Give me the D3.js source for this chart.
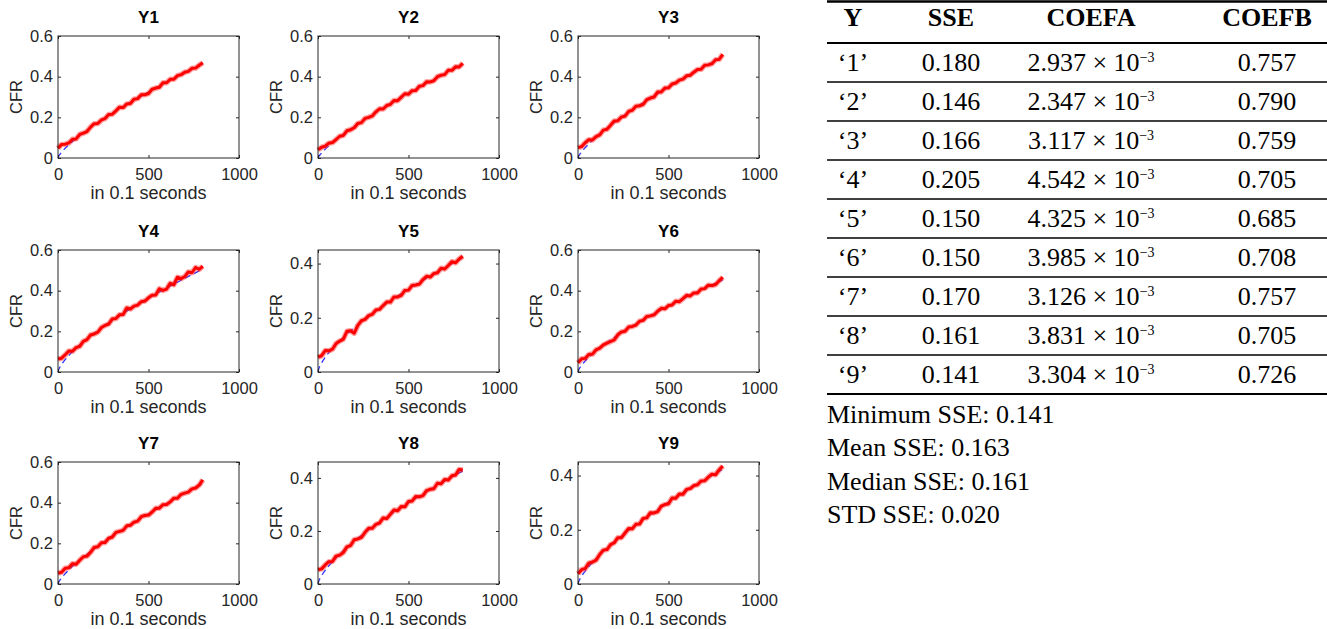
<!DOCTYPE html>
<html>
<head>
<meta charset="utf-8">
<script src="https://cdn.jsdelivr.net/npm/d3@7"></script>
<style>
  body { margin: 0; background: #fff; }
  svg { display: block; }
</style>
</head>
<body>
<svg id="chart"></svg>
<script>
// sample positions (in 0.1 s) of the measured curves
const sampleX = [0, 20, 40, 60, 80, 100, 120, 140, 160, 180, 200, 220, 240, 260, 280, 300, 320, 340, 360, 380,
  400, 420, 440, 460, 480, 500, 520, 540, 560, 580, 600, 620, 640, 660, 680, 700, 720, 740, 760, 780, 800];

const cfrY1 = [.048, .067, .068, .074, .092, .094, .116, .122, .130, .152, .169, .170, .187, .194, .214, .215, .232, .250, .248, .266,
  .268, .289, .292, .311, .311, .317, .338, .344, .348, .370, .370, .387, .387, .405, .410, .422, .426, .441, .442, .456, .468];
const cfrY2 = [.040, .053, .058, .073, .076, .091, .107, .111, .134, .139, .149, .170, .174, .195, .200, .207, .227, .242, .241, .258,
  .264, .283, .282, .299, .316, .314, .331, .332, .353, .356, .375, .374, .380, .400, .407, .410, .432, .431, .449, .448, .466];
const cfrY3 = [.051, .056, .075, .090, .089, .105, .114, .137, .141, .161, .182, .183, .202, .206, .229, .235, .255, .257, .264, .287,
  .295, .300, .324, .325, .344, .345, .364, .369, .383, .388, .404, .407, .422, .435, .436, .456, .458, .464, .483, .485, .510];
const cfrY4 = [.064, .068, .085, .103, .102, .120, .126, .151, .159, .182, .187, .196, .219, .229, .236, .261, .263, .282, .283, .315,
  .310, .324, .329, .346, .349, .365, .378, .379, .409, .401, .408, .436, .429, .466, .459, .469, .492, .488, .514, .505, .520];
const cfrY5 = [.055, .060, .079, .078, .084, .105, .114, .121, .150, .152, .143, .172, .189, .194, .208, .213, .229, .231, .245, .258,
  .258, .277, .277, .283, .301, .302, .319, .321, .324, .341, .353, .350, .363, .366, .383, .380, .393, .407, .403, .417, .427];
const cfrY6 = [.045, .065, .067, .086, .088, .109, .117, .133, .142, .150, .158, .183, .197, .200, .221, .224, .231, .250, .254, .273,
  .276, .281, .299, .313, .311, .327, .330, .348, .346, .361, .377, .374, .389, .389, .408, .410, .427, .425, .430, .449, .466];
const cfrY7 = [.053, .058, .078, .080, .100, .097, .117, .134, .137, .156, .180, .183, .203, .204, .225, .231, .254, .259, .264, .286,
  .289, .304, .309, .331, .337, .339, .354, .372, .373, .390, .391, .404, .422, .422, .441, .447, .452, .468, .472, .486, .512];
const cfrY8 = [.054, .057, .072, .084, .085, .105, .109, .119, .140, .145, .167, .170, .176, .195, .210, .210, .225, .230, .249, .247,
  .263, .279, .276, .292, .291, .311, .313, .330, .329, .333, .352, .357, .359, .380, .378, .394, .392, .408, .411, .432, .430];
const cfrY9 = [.038, .053, .057, .077, .081, .088, .109, .125, .127, .145, .152, .171, .171, .188, .205, .204, .220, .221, .242, .244,
  .263, .262, .267, .287, .293, .296, .317, .316, .332, .331, .349, .352, .363, .366, .380, .381, .394, .405, .403, .421, .435];

// fitted curve (COEFA * t^COEFB), read at a few positions
const fitX = [0, 5, 15, 30, 60, 100, 200, 400, 600, 800];
const fitY1 = [0, .0099, .0228, .0386, .0651, .0959, .1621, .2740, .3724, .463];
const fitY2 = [0, .0084, .0199, .0345, .0596, .0892, .1543, .2668, .3675, .461];
const fitY3 = [0, .0106, .0243, .0412, .0697, .1027, .1739, .2942, .4002, .498];
const fitY4 = [0, .0141, .0306, .0500, .0814, .1168, .1903, .3103, .4129, .506];
const fitY5 = [0, .0130, .0276, .0444, .0715, .1014, .1630, .2620, .3460, .421];
const fitY6 = [0, .0125, .0271, .0443, .0723, .1039, .1697, .2772, .3693, .453];
const fitY7 = [0, .0106, .0243, .0410, .0693, .1021, .1726, .2916, .3964, .493];
const fitY8 = [0, .0119, .0259, .0421, .0687, .0985, .1605, .2617, .3483, .426];
const fitY9 = [0, .0106, .0236, .0390, .0646, .0935, .1548, .2560, .3435, .423];

const panelTitles = ['Y1', 'Y2', 'Y3', 'Y4', 'Y5', 'Y6', 'Y7', 'Y8', 'Y9'];
const panelYMax = [0.6, 0.6, 0.6, 0.6, 0.45, 0.6, 0.6, 0.46, 0.45];
const xTicks = [0, 500, 1000];
const yTicks = [0, 0.2, 0.4, 0.6];

// table
const tableHeader = ['Y', 'SSE', 'COEFA', 'COEFB'];
const rowLabels = ['‘1’', '‘2’', '‘3’', '‘4’', '‘5’', '‘6’', '‘7’', '‘8’', '‘9’'];
const sseValues = ['0.180', '0.146', '0.166', '0.205', '0.150', '0.150', '0.170', '0.161', '0.141'];
const coefAValues = ['2.937', '2.347', '3.117', '4.542', '4.325', '3.985', '3.126', '3.831', '3.304'];
const coefBValues = ['0.757', '0.790', '0.759', '0.705', '0.685', '0.708', '0.757', '0.705', '0.726'];
const summaryLines = ['Minimum SSE: 0.141', 'Mean SSE: 0.163', 'Median SSE: 0.161', 'STD SSE: 0.020'];

const cfr = [cfrY1, cfrY2, cfrY3, cfrY4, cfrY5, cfrY6, cfrY7, cfrY8, cfrY9];
const fits = [fitY1, fitY2, fitY3, fitY4, fitY5, fitY6, fitY7, fitY8, fitY9];

const width = 1327, height = 629;
const colLeft = [58, 318, 578];
const rowTop = [36, 250, 462];
const plotW = 181, plotH = 122;
const axisColor = '#262626';
const sans = 'Liberation Sans, Arial, sans-serif';

const svg = d3.select('#chart')
  .attr('width', width)
  .attr('height', height)
  .attr('viewBox', [0, 0, width, height]);

svg.append('rect').attr('width', width).attr('height', height).attr('fill', '#fff');

const fmtY = d => d === 0 ? '0' : d3.format('.1f')(d);

panelTitles.forEach((title, k) => {
  const left = colLeft[k % 3], top = rowTop[Math.floor(k / 3)];
  const x = d3.scaleLinear().domain([0, 1000]).range([0, plotW]);
  const y = d3.scaleLinear().domain([0, panelYMax[k]]).range([plotH, 0]);
  const ticks = yTicks.filter(t => t <= panelYMax[k] + 1e-9);

  const g = svg.append('g').attr('transform', `translate(${left},${top})`);

  // fitted curve (dashed blue), under the data
  const fitLine = d3.line().x((d, i) => x(fitX[i])).y(d => y(d)).curve(d3.curveMonotoneX);
  g.append('path')
    .attr('d', fitLine(fits[k]))
    .attr('fill', 'none')
    .attr('stroke', '#3333ff')
    .attr('stroke-width', 1.3)
    .attr('stroke-dasharray', '6,4');

  // measured data (red): soft halo plus core to look like the noisy band
  const dataLine = d3.line().x((d, i) => x(sampleX[i])).y(d => y(d));
  g.append('path')
    .attr('d', dataLine(cfr[k]))
    .attr('fill', 'none')
    .attr('stroke', '#ff3030')
    .attr('stroke-opacity', 0.45)
    .attr('stroke-width', 5.5)
    .attr('stroke-linejoin', 'round');
  g.append('path')
    .attr('d', dataLine(cfr[k]))
    .attr('fill', 'none')
    .attr('stroke', '#ff0000')
    .attr('stroke-width', 3)
    .attr('stroke-linejoin', 'round');

  // axes, MATLAB style: box with inward ticks on all sides
  const styleAxis = a => a
    .call(s => s.select('.domain').remove())
    .call(s => s.selectAll('.tick line').attr('stroke', axisColor))
    .call(s => s.selectAll('.tick text')
      .attr('fill', axisColor)
      .attr('font-family', sans)
      .attr('font-size', 16.5));

  g.append('g')
    .attr('transform', `translate(0,${plotH})`)
    .call(d3.axisBottom(x).tickValues(xTicks).tickSizeInner(-3).tickSizeOuter(0).tickPadding(10).tickFormat(d3.format('d')))
    .call(styleAxis);
  g.append('g')
    .call(d3.axisTop(x).tickValues(xTicks).tickSizeInner(-3).tickSizeOuter(0).tickFormat(''))
    .call(styleAxis);
  g.append('g')
    .call(d3.axisLeft(y).tickValues(ticks).tickSizeInner(-3).tickSizeOuter(0).tickPadding(5).tickFormat(fmtY))
    .call(styleAxis);
  g.append('g')
    .attr('transform', `translate(${plotW},0)`)
    .call(d3.axisRight(y).tickValues(ticks).tickSizeInner(-3).tickSizeOuter(0).tickFormat(''))
    .call(styleAxis);

  g.append('rect')
    .attr('width', plotW).attr('height', plotH)
    .attr('fill', 'none')
    .attr('stroke', axisColor)
    .attr('stroke-width', 1);

  // title and axis labels
  g.append('text')
    .attr('x', plotW / 2).attr('y', -13)
    .attr('text-anchor', 'middle')
    .attr('font-family', sans)
    .attr('font-weight', 'bold')
    .attr('font-size', 17)
    .attr('fill', '#000')
    .text(title);

  g.append('text')
    .attr('x', plotW / 2).attr('y', plotH + 41)
    .attr('text-anchor', 'middle')
    .attr('font-family', sans)
    .attr('font-size', 18)
    .attr('fill', axisColor)
    .text('in 0.1 seconds');

  g.append('text')
    .attr('transform', `translate(-36,${plotH / 2}) rotate(-90)`)
    .attr('text-anchor', 'middle')
    .attr('font-family', sans)
    .attr('font-size', 16.5)
    .attr('fill', axisColor)
    .text('CFR');
});

// ---- table ----
const tableLeft = 827, tableRight = 1327;
const colCenter = [853, 951, 1091, 1267];
const headerBase = 26, rowTop0 = 43, rowH = 39;
const serif = 'Palatino Linotype, Book Antiqua, Liberation Serif, serif';

const table = svg.append('g')
  .attr('font-family', serif)
  .attr('font-size', 26)
  .attr('fill', '#000');

table.selectAll('text.header')
  .data(tableHeader)
  .join('text')
  .attr('class', 'header')
  .attr('x', (d, i) => colCenter[i])
  .attr('y', headerBase)
  .attr('text-anchor', 'middle')
  .attr('font-weight', 'bold')
  .text(d => d);

const rows = table.selectAll('g.row')
  .data(rowLabels)
  .join('g')
  .attr('class', 'row')
  .attr('transform', (d, i) => `translate(0,${rowTop0 + i * rowH + 28})`);

rows.append('text').attr('x', colCenter[0]).attr('text-anchor', 'middle').text(d => d);
rows.append('text').attr('x', colCenter[1]).attr('text-anchor', 'middle').text((d, i) => sseValues[i]);
rows.append('text').attr('x', colCenter[2]).attr('text-anchor', 'middle')
  .each(function(d, i) {
    const t = d3.select(this);
    t.append('tspan').text(`${coefAValues[i]} × 10`);
    t.append('tspan').attr('dy', -9).attr('font-size', 14).text('−3');
  });
rows.append('text').attr('x', colCenter[3]).attr('text-anchor', 'middle').text((d, i) => coefBValues[i]);

// rules
const ruleY = d3.range(rowLabels.length + 1).map(i => rowTop0 + i * rowH);
table.append('line')
  .attr('x1', tableLeft).attr('x2', tableRight)
  .attr('y1', 1.5).attr('y2', 1.5)
  .attr('stroke', '#000').attr('stroke-width', 2.5);
table.selectAll('line.rule')
  .data(ruleY)
  .join('line')
  .attr('class', 'rule')
  .attr('x1', tableLeft).attr('x2', tableRight)
  .attr('y1', d => d).attr('y2', d => d)
  .attr('stroke', '#000')
  .attr('stroke-width', (d, i) => (i === 0 || i === rowLabels.length) ? 2.2 : 1.6);

table.selectAll('text.summary')
  .data(summaryLines)
  .join('text')
  .attr('class', 'summary')
  .attr('x', tableLeft)
  .attr('y', (d, i) => 423 + i * 33.3)
  .text(d => d);
</script>
</body>
</html>
